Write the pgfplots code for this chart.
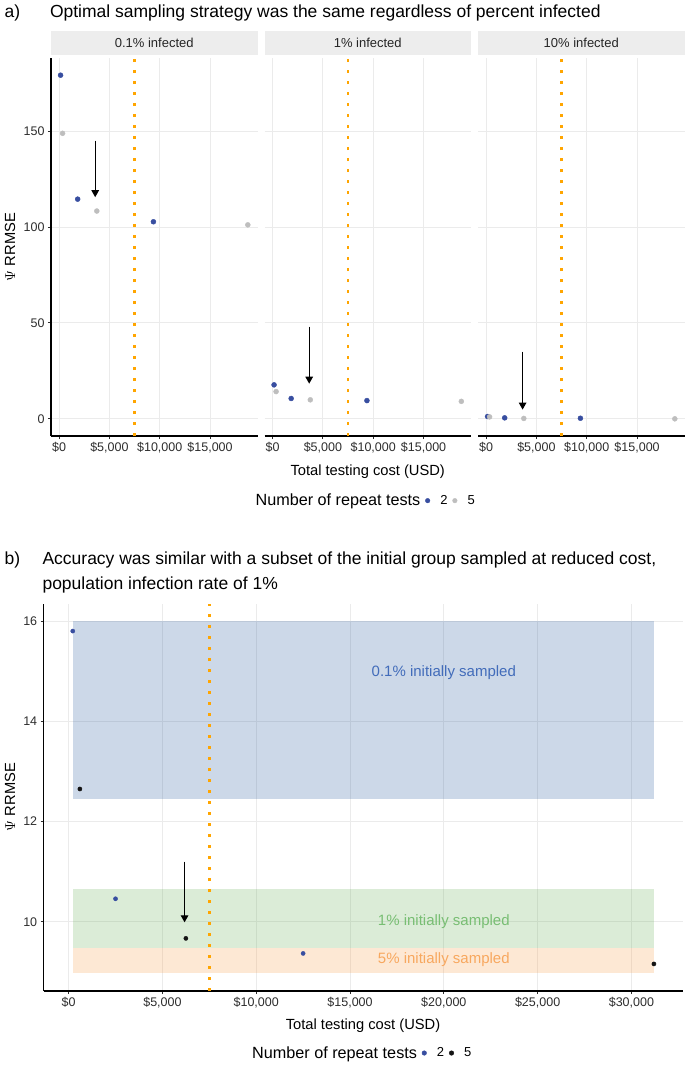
\documentclass[border=0pt]{standalone}
\usepackage{fontspec}
\setmainfont{Liberation Sans}
\usepackage{pgfplots}
\pgfplotsset{compat=1.18}
\usetikzlibrary{arrows.meta}
\definecolor{ptblue}{RGB}{56,78,160}
\definecolor{ptgray}{RGB}{190,190,190}
\definecolor{ptblack}{RGB}{20,20,20}
\definecolor{vorange}{RGB}{255,165,0}
\definecolor{gridc}{RGB}{235,235,235}
\definecolor{stripc}{RGB}{237,237,237}
\definecolor{rblue}{RGB}{51,99,163}
\definecolor{rgreen}{RGB}{111,179,95}
\definecolor{rorange}{RGB}{247,163,83}
\definecolor{tblue}{RGB}{66,108,186}
\definecolor{tgreen}{RGB}{120,190,115}
\definecolor{torange}{RGB}{247,168,95}
\definecolor{tickc}{RGB}{45,45,45}

\pgfplotsset{
  common/.style={
    scale only axis,
    axis x line*=bottom, axis y line*=left,
    separate axis lines,
    axis line style={line width=1.1pt, black, -},
    tick align=outside,
    major tick length=3pt,
    tick style={line width=0.8pt, tickc},
    grid=major,
    grid style={line width=0.9pt, gridc},
    ticklabel style={font=\fontsize{12.5}{14}\selectfont, text=tickc},
    /pgf/number format/assume math mode=true,
    scaled x ticks=false, scaled y ticks=false,
    clip=false,
    legend columns=-1,
    legend image code/.code={\path[draw=none,fill=none] (-2.2pt,0pt) (10.7pt,0pt); \draw[##1, mark size=2.3pt] plot coordinates {(0pt,0pt)};},
  },
  vline/.style={vorange, line width=2.6pt, dash pattern=on 2.6pt off 8.4pt, forget plot},
  arr/.style={black, line width=1.2pt, -{Triangle[length=7pt,width=7.5pt]}, forget plot},
}
\newcommand{\titlefont}{\fontsize{17.5}{20}\selectfont}
\begin{document}
\begin{tikzpicture}
\path[use as bounding box] (0pt,0pt) rectangle (685pt,-1065pt);

% ---------- Part a ----------
\node[anchor=west, font=\titlefont] at (1pt,-13pt) {a)};
\node[anchor=west, font=\titlefont] at (46.5pt,-13pt) {Optimal sampling strategy was the same regardless of percent infected};

\fill[stripc] (51pt,-31pt) rectangle (257.5pt,-55pt);
\fill[stripc] (264.5pt,-31pt) rectangle (471pt,-55pt);
\fill[stripc] (478pt,-31pt) rectangle (684.5pt,-55pt);
\node[font=\fontsize{13}{15}\selectfont, text=black!85] at (154.25pt,-43pt) {0.1\% infected};
\node[font=\fontsize{13}{15}\selectfont, text=black!85] at (367.75pt,-43pt) {1\% infected};
\node[font=\fontsize{13}{15}\selectfont, text=black!85] at (581.25pt,-43pt) {10\% infected};

% panel 1
\begin{axis}[common, at={(51pt,-436pt)}, anchor=south west, width=206.5pt, height=378pt,
  xmin=-800, xmax=19712, ymin=-8.96, ymax=188.06,
  xtick={0,5000,10000,15000}, xticklabels={{\$0},{\$5,000},{\$10,000},{\$15,000}},
  ytick={0,50,100,150},
  legend style={draw=none, fill=none, at={(0.98,-0.171)}, anchor=west,
    font=\fontsize{13}{15}\selectfont, inner sep=0pt,
    /tikz/every even column/.append style={column sep=3pt}}]
\addplot[vline] coordinates {(7500,-8.96) (7500,188.06)};
\addplot[arr] coordinates {(3590,145) (3590,115.5)};
\addlegendimage{empty legend}
\addlegendentry{\fontsize{16.2}{19}\selectfont Number of repeat tests}
\addplot[only marks, mark=*, ptblue, mark size=2.5pt] coordinates {(150,179.1) (1850,114.5) (9375,102.7)};
\addlegendentry{2\hspace{10.5pt}}
\addplot[only marks, mark=*, ptgray, mark size=2.5pt] coordinates {(350,148.8) (3750,108.3) (18750,101.1)};
\addlegendentry{5}
\end{axis}

% panel 2
\begin{axis}[common, at={(264.5pt,-436pt)}, anchor=south west, width=206.5pt, height=378pt,
  xmin=-800, xmax=19712, ymin=-8.96, ymax=188.06,
  xtick={0,5000,10000,15000}, xticklabels={{\$0},{\$5,000},{\$10,000},{\$15,000}},
  ytick={0,50,100,150}, yticklabels={}, y axis line style={draw=none}, ytick style={draw=none}]
\addplot[vline] coordinates {(7500,-8.96) (7500,188.06)};
\addplot[arr] coordinates {(3640,48) (3640,18.3)};
\addplot[only marks, mark=*, ptblue, mark size=2.5pt] coordinates {(150,17.7) (1850,10.6) (9375,9.5)};
\addplot[only marks, mark=*, ptgray, mark size=2.5pt] coordinates {(350,14.2) (3750,9.9) (18750,9.1)};
\end{axis}

% panel 3
\begin{axis}[common, at={(478pt,-436pt)}, anchor=south west, width=206.5pt, height=378pt,
  xmin=-800, xmax=19712, ymin=-8.96, ymax=188.06,
  xtick={0,5000,10000,15000}, xticklabels={{\$0},{\$5,000},{\$10,000},{\$15,000}},
  ytick={0,50,100,150}, yticklabels={}, y axis line style={draw=none}, ytick style={draw=none}]
\addplot[vline] coordinates {(7500,-8.96) (7500,188.06)};
\addplot[arr] coordinates {(3630,35) (3630,4.8)};
\addplot[only marks, mark=*, ptblue, mark size=2.5pt] coordinates {(150,1.2) (1850,0.5) (9375,0.3)};
\addplot[only marks, mark=*, ptgray, mark size=2.5pt] coordinates {(350,1.0) (3750,0.2) (18750,0.0)};
\end{axis}

\node[font=\fontsize{14.7}{17}\selectfont] at (367.7pt,-471.7pt) {Total testing cost (USD)};
\node[rotate=90, font=\fontsize{14.7}{17}\selectfont] at (10pt,-247pt) {$\Psi$ RRMSE};

% ---------- Part b ----------
\node[anchor=west, font=\titlefont] at (1pt,-560pt) {b)};
\node[anchor=west, font=\titlefont] at (39pt,-560pt) {Accuracy was similar with a subset of the initial group sampled at reduced cost,};
\node[anchor=west, font=\titlefont] at (39pt,-585pt) {population infection rate of 1\%};

\begin{axis}[common, at={(43.7pt,-991pt)}, anchor=south west, width=639.3pt, height=387.5pt,
  xmin=-1329, xmax=32750, ymin=8.62, ymax=16.35,
  xtick={0,5000,10000,15000,20000,25000,30000},
  xticklabels={{\$0},{\$5,000},{\$10,000},{\$15,000},{\$20,000},{\$25,000},{\$30,000}},
  ytick={10,12,14,16},
  legend style={draw=none, fill=none, at={(0.3227,-0.16)}, anchor=west,
    font=\fontsize{13}{15}\selectfont, inner sep=0pt,
    /tikz/every even column/.append style={column sep=3pt}}]
\addplot[draw=none, fill=rblue, fill opacity=0.25, forget plot] coordinates {(220,12.45) (31200,12.45) (31200,16) (220,16)} -- cycle;
\addplot[draw=none, fill=rgreen, fill opacity=0.25, forget plot] coordinates {(220,9.48) (31200,9.48) (31200,10.66) (220,10.66)} -- cycle;
\addplot[draw=none, fill=rorange, fill opacity=0.25, forget plot] coordinates {(220,8.97) (31200,8.97) (31200,9.48) (220,9.48)} -- cycle;
\node[text=tblue, font=\fontsize{15}{17}\selectfont] at (axis cs:20000,14.98) {0.1\% initially sampled};
\node[text=tgreen, font=\fontsize{15}{17}\selectfont] at (axis cs:20000,10.0) {1\% initially sampled};
\node[text=torange, font=\fontsize{15}{17}\selectfont] at (axis cs:20000,9.24) {5\% initially sampled};
\addplot[vline] coordinates {(7500,8.62) (7500,16.35)};
\addplot[arr] coordinates {(6180,11.2) (6180,9.99)};
\addlegendimage{empty legend}
\addlegendentry{\fontsize{16.2}{19}\selectfont Number of repeat tests}
\addplot[only marks, mark=*, ptblue, mark size=2.1pt] coordinates {(220,15.8) (2500,10.46) (12500,9.37)};
\addlegendentry{2\hspace{10.5pt}}
\addplot[only marks, mark=*, ptblack, mark size=2.1pt] coordinates {(600,12.65) (6250,9.67) (31200,9.16)};
\addlegendentry{5}
\end{axis}

\node[font=\fontsize{14.7}{17}\selectfont] at (363pt,-1025.5pt) {Total testing cost (USD)};
\node[rotate=90, font=\fontsize{14.7}{17}\selectfont] at (10pt,-797pt) {$\Psi$ RRMSE};

\end{tikzpicture}
\end{document}
